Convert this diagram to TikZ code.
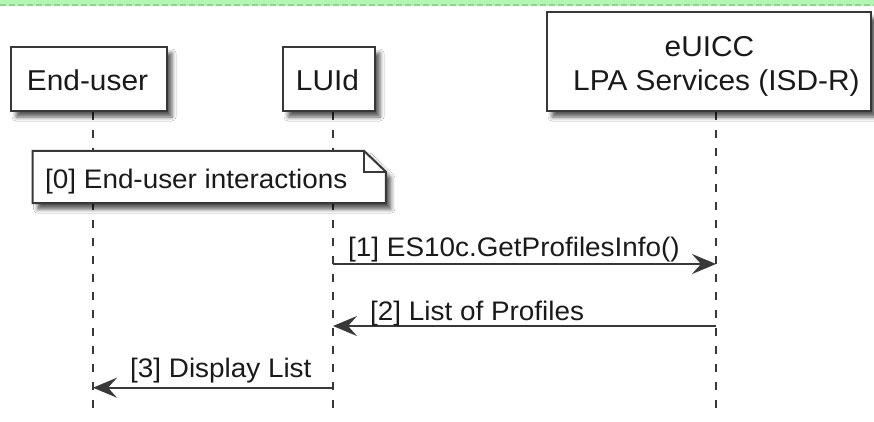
\documentclass[tikz,border=0pt]{standalone}
\usepackage{fontspec}
\setmainfont[FakeStretch=1.04]{Liberation Sans}
\usetikzlibrary{arrows.meta,shadows.blur}
\definecolor{bord}{HTML}{383838}
\definecolor{band}{HTML}{B3F5B3}
\definecolor{bandline}{HTML}{8CD88C}
\definecolor{txt}{HTML}{1A1A1A}
\tikzset{
  shad/.style={blur shadow={shadow xshift=5pt, shadow yshift=-6pt, shadow blur radius=4pt, shadow opacity=65}},
  pbox/.style={draw=bord, line width=2.5pt, fill=white, inner sep=0pt, shad},
  ptext/.style={font=\fontsize{28.7}{34}\selectfont, text=txt, anchor=base, inner sep=0pt},
  mtext/.style={font=\fontsize{26.8}{32}\selectfont, text=txt, anchor=base west, inner sep=0pt},
  life/.style={draw=bord, line width=1.5pt, dash pattern=on 8pt off 10pt},
  msg/.style={draw=bord, line width=2pt, -{Stealth[length=24pt,width=20pt,inset=9pt]}},
  notebox/.style={draw=bord, line width=2pt, line join=miter},
}
\begin{document}
\begin{tikzpicture}[x=1pt,y=-1pt]
\useasboundingbox (0,0) rectangle (874,421);
\fill[white] (0,0) rectangle (874,421);
\fill[band] (0,0) rectangle (874,5.5);
\draw[bandline, line width=1.5pt, dash pattern=on 6pt off 3pt] (0,5) -- (874,5);

% lifelines
\coordinate (eu-top) at (93,112);
\coordinate (eu-bot) at (93,415);
\coordinate (lu-top) at (333,112);
\coordinate (lu-bot) at (333,415);
\coordinate (ec-top) at (716,112);
\coordinate (ec-bot) at (716,415);
\draw[life] (eu-top) -- (eu-bot);
\draw[life] (lu-top) -- (lu-bot);
\draw[life] (ec-top) -- (ec-bot);

% participants
\node[pbox, minimum width=156pt, minimum height=64pt] (eu) at (89,79) {};
\node[pbox, minimum width=92pt, minimum height=64pt] (lu) at (329,79) {};
\node[pbox, minimum width=324pt, minimum height=99pt] (ec) at (709,61.5) {};
\node[ptext] (eu-t) at (87.5,90.7) {End-user};
\node[ptext] (lu-t) at (327.5,90.7) {LUId};
\node[ptext] (ec-t1) at (709.5,56) {eUICC};
\node[ptext, anchor=base west] (ec-t2) at (573,90) {LPA Services (ISD-R)};

% note
\node[inner sep=0pt, minimum width=353pt, minimum height=52pt] (note) at (209.2,177) {};
\draw[notebox, fill=white, shad] (note.south west) -- (note.north west) -- ([xshift=-22pt]note.north east) -- ([yshift=-21pt]note.north east) -- (note.south east) -- cycle;
\draw[notebox] ([xshift=-22pt]note.north east) -- ([xshift=-22pt,yshift=-21pt]note.north east) -- ([yshift=-21pt]note.north east);
\node[mtext] (note-t) at (45,188) {[0] End-user interactions};

% messages
\coordinate (m1a) at (333,264);
\coordinate (m1b) at (716,264);
\coordinate (m2a) at (716,326);
\coordinate (m2b) at (333,326);
\coordinate (m3a) at (333,387.7);
\coordinate (m3b) at (93,387.7);
\draw[msg] (m1a) -- (m1b);
\draw[msg] (m2a) -- (m2b);
\draw[msg] (m3a) -- (m3b);
\node[mtext] (m1-t) at (348,256) {[1] ES10c.GetProfilesInfo()};
\node[mtext] (m2-t) at (370,320.7) {[2] List of Profiles};
\node[mtext] (m3-t) at (130,377.3) {[3] Display List};
\end{tikzpicture}
\end{document}
